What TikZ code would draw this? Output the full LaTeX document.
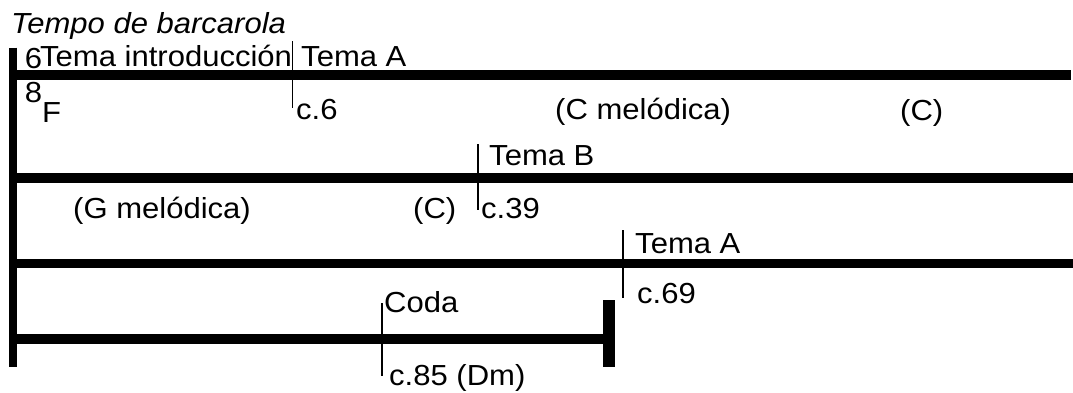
\documentclass[tikz,border=0pt]{standalone}
\usepackage{fontspec}
\setmainfont{Liberation Sans}[FakeStretch=1.07]
\begin{document}
\begin{tikzpicture}[x=1pt,y=-1pt,
  staff/.style={line width=9.5pt},
  barline/.style={line width=8.5pt},
  endbar/.style={line width=12pt},
  tickline/.style={line width=1.8pt},
  lbl/.style={anchor=base west, inner sep=0pt, font=\fontsize{29}{34}\selectfont},
  ttl/.style={anchor=base west, inner sep=0pt, font=\fontsize{29}{34}\selectfont\itshape}]
\useasboundingbox (0,0) rectangle (1073,392);
% left bar
\coordinate (bartop) at (12.75,47.5);
\coordinate (barbot) at (12.75,367);
\draw[barline] (bartop) -- (barbot);
% staff lines
\coordinate (s1a) at (12.75,75);   \coordinate (s1b) at (1071,75);
\coordinate (s2a) at (12.75,178);  \coordinate (s2b) at (1073,178);
\coordinate (s3a) at (12.75,263.5);\coordinate (s3b) at (1073,263.5);
\coordinate (s4a) at (12.75,339);  \coordinate (s4b) at (603,339);
\draw[staff] (s1a) -- (s1b);
\draw[staff] (s2a) -- (s2b);
\draw[staff] (s3a) -- (s3b);
\draw[staff] (s4a) -- (s4b);
% final bar
\coordinate (e1) at (609,300); \coordinate (e2) at (609,367);
\draw[endbar] (e1) -- (e2);
% ticks
\coordinate (t1a) at (292.5,41);  \coordinate (t1b) at (292.5,108);
\coordinate (t2a) at (478,144);   \coordinate (t2b) at (478,210);
\coordinate (t3a) at (623,230);   \coordinate (t3b) at (623,298);
\coordinate (t4a) at (382,303);   \coordinate (t4b) at (382,376);
\draw[tickline] (t1a) -- (t1b);
\draw[tickline] (t2a) -- (t2b);
\draw[tickline] (t3a) -- (t3b);
\draw[tickline] (t4a) -- (t4b);
% texts
\node[ttl] (title) at (11,33) {Tempo de barcarola};
\node[lbl,anchor=base] (six) at (33.5,68) {6};
\node[lbl,anchor=base] (eight) at (33.5,102) {8};
\node[lbl] (F) at (42,122) {F};
\node[lbl] (intro) at (40,66) {Tema introducción};
\node[lbl] (temaA1) at (301,66) {Tema A};
\node[lbl] (c6) at (296,119) {c.6};
\node[lbl] (cmel) at (555,119) {(C melódica)};
\node[lbl] (C1) at (900,120) {(C)};
\node[lbl] (temaB) at (489,165.5) {Tema B};
\node[lbl] (gmel) at (73,218) {(G melódica)};
\node[lbl] (C2) at (413,218) {(C)};
\node[lbl] (c39) at (481,218) {c.39};
\node[lbl] (temaA2) at (635,253) {Tema A};
\node[lbl] (c69) at (637,303) {c.69};
\node[lbl] (coda) at (384,312) {Coda};
\node[lbl] (c85) at (389,385) {c.85 (Dm)};
\end{tikzpicture}
\end{document}
